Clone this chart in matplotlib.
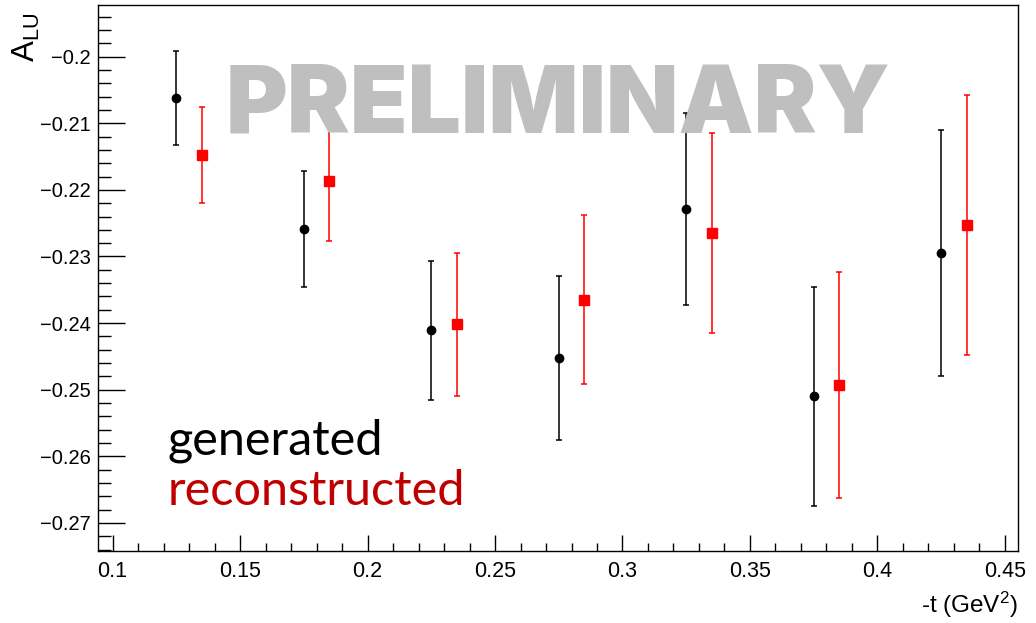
import matplotlib
matplotlib.use("Agg")
import matplotlib.pyplot as plt
from matplotlib.ticker import MultipleLocator, FuncFormatter

# -t bins, generated sample
T_GEN = [0.125, 0.175, 0.225, 0.275, 0.325, 0.375, 0.425]
ALU_GEN = [-0.2062, -0.2259, -0.2411, -0.2453, -0.2229, -0.2510, -0.2295]
ERR_GEN = [0.0070, 0.0087, 0.0104, 0.0123, 0.0144, 0.0164, 0.0185]

# reconstructed sample, shifted by +0.01 in -t for visibility
T_REC = [0.135, 0.185, 0.235, 0.285, 0.335, 0.385, 0.435]
ALU_REC = [-0.2147, -0.2187, -0.2402, -0.2365, -0.2265, -0.2493, -0.2253]
ERR_REC = [0.0072, 0.0090, 0.0107, 0.0127, 0.0150, 0.0169, 0.0195]

plt.rcParams["font.family"] = "Liberation Sans"
plt.rcParams["mathtext.default"] = "regular"


def fmt(v, pos):
    return ("%g" % round(v, 4)).replace("-", "\u2212")


fig = plt.figure(figsize=(10.36, 6.23), dpi=100)
ax = fig.add_axes([0.0946, 0.1156, 0.888, 0.8764])

ax.errorbar(T_GEN, ALU_GEN, yerr=ERR_GEN, fmt="o", color="black",
            markersize=6, elinewidth=1.1, capsize=2, capthick=1.1, zorder=3)
ax.errorbar(T_REC, ALU_REC, yerr=ERR_REC, fmt="s", color="#ff0000",
            markersize=6.5, elinewidth=1.1, capsize=2, capthick=1.1, zorder=3)

ax.set_xlim(0.0943, 0.4551)
ax.set_ylim(-0.2742, -0.19225)

ax.xaxis.set_major_locator(MultipleLocator(0.05))
ax.xaxis.set_minor_locator(MultipleLocator(0.01))
ax.yaxis.set_major_locator(MultipleLocator(0.01))
ax.yaxis.set_minor_locator(MultipleLocator(0.002))
ax.xaxis.set_major_formatter(FuncFormatter(fmt))
ax.yaxis.set_major_formatter(FuncFormatter(fmt))

ax.tick_params(axis="both", which="both", direction="in", width=1.0,
               top=False, right=False)
ax.tick_params(axis="y", which="major", length=19.5, pad=5, labelsize=14.5)
ax.tick_params(axis="y", which="minor", length=9.5)
ax.tick_params(axis="x", which="major", length=11.5, pad=7, labelsize=15.5)
ax.tick_params(axis="x", which="minor", length=6)
for s in ax.spines.values():
    s.set_linewidth(1.0)

ax.text(0.5, 0.7656, "PRELIMINARY", transform=ax.transAxes,
        ha="center", va="baseline", fontsize=68, family="Inter",
        fontweight="black", color="#bfbfbf", zorder=5)

ax.text(0.076, 0.176, "generated", transform=ax.transAxes,
        ha="left", va="baseline", fontsize=35, family="Lato", color="black")
ax.text(0.076, 0.084, "reconstructed", transform=ax.transAxes,
        ha="left", va="baseline", fontsize=35, family="Lato", color="#c00000")

fig.text(26 / 1036, 1 - 13 / 623, r"$A_{LU}$", rotation=90,
         ha="center", va="top", fontsize=22.5)
ax.text(1.0, -0.099, r"-t (GeV$^2$)", transform=ax.transAxes,
        ha="right", va="center", fontsize=17.5)

fig.savefig("out.png", dpi=100)
